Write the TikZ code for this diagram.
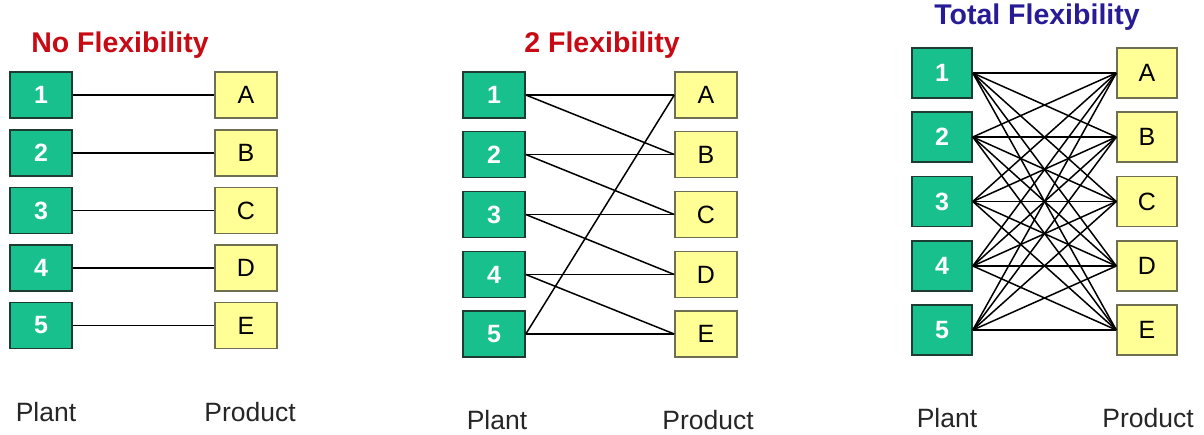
\documentclass[tikz,border=0pt]{standalone}
\usepackage{fontspec}
\setmainfont{Liberation Sans}
\definecolor{plantgreen}{RGB}{24,192,142}
\definecolor{plantborder}{RGB}{30,60,50}
\definecolor{prodyellow}{RGB}{255,255,150}
\definecolor{prodborder}{RGB}{110,110,80}
\definecolor{titlered}{RGB}{200,10,20}
\definecolor{titleblue}{RGB}{40,28,150}
\tikzset{
  plantbox/.style={draw=plantborder, line width=1.6pt, fill=plantgreen, inner sep=0pt,
    minimum width=62pt, minimum height=46pt, text=white,
    font=\fontsize{25}{25}\selectfont\bfseries},
  prodbox/.style={draw=prodborder, line width=1.4pt, fill=prodyellow, inner sep=0pt,
    minimum width=62pt, minimum height=46pt, text=black,
    font=\fontsize{25}{25}\selectfont},
  link/.style={draw=black, line width=1.5pt},
  titletext/.style={font=\fontsize{28.5}{28.5}\selectfont\bfseries, inner sep=0pt},
  axislabel/.style={font=\fontsize{26.5}{26.5}\selectfont, inner sep=0pt, text=black!85}
}
\begin{document}
\begin{tikzpicture}[x=1pt,y=-1pt]
\useasboundingbox (0,0) rectangle (1204,434);
% ---------- Left panel ----------
\node[titletext, text=titlered] (t1) at (120,45) {No Flexibility};
\foreach \n/\l/\y in {1/A/95, 2/B/153, 3/C/210.5, 4/D/268, 5/E/325.5} {
  \node[plantbox] (l\n) at (41,\y) {\n};
  \node[prodbox] (l\l) at (246,\y) {\l};
  \draw[link] (l\n.east) -- (l\l.west);
}
\node[axislabel] (lp) at (46,412) {Plant};
\node[axislabel] (lq) at (250,412) {Product};
% ---------- Middle panel ----------
\node[titletext, text=titlered] (t2) at (602,45) {2 Flexibility};
\foreach \n/\l/\y in {1/A/95, 2/B/154.5, 3/C/214.5, 4/D/274.5, 5/E/334} {
  \node[plantbox] (m\n) at (494,\y) {\n};
  \node[prodbox] (m\l) at (706,\y) {\l};
}
\foreach \a/\b in {1/A, 1/B, 2/B, 2/C, 3/C, 3/D, 4/D, 4/E, 5/E, 5/A} {
  \draw[link] (m\a.east) -- (m\b.west);
}
\node[axislabel] (mp) at (497,420) {Plant};
\node[axislabel] (mq) at (708,420) {Product};
% ---------- Right panel ----------
\node[titletext, text=titleblue] (t3) at (1037,17.5) {Total Flexibility};
\foreach \n/\l/\y in {1/A/73, 2/B/137, 3/C/201.5, 4/D/266, 5/E/330} {
  \node[plantbox, minimum width=60pt, minimum height=50pt] (r\n) at (942,\y) {\n};
  \node[prodbox, minimum width=60pt, minimum height=50pt] (r\l) at (1147,\y) {\l};
}
\foreach \a in {1,2,3,4,5} {
  \foreach \b in {A,B,C,D,E} {
    \draw[link] (r\a.east) -- (r\b.west);
  }
}
\node[axislabel] (rp) at (947,418) {Plant};
\node[axislabel] (rq) at (1148,418) {Product};
\end{tikzpicture}
\end{document}
